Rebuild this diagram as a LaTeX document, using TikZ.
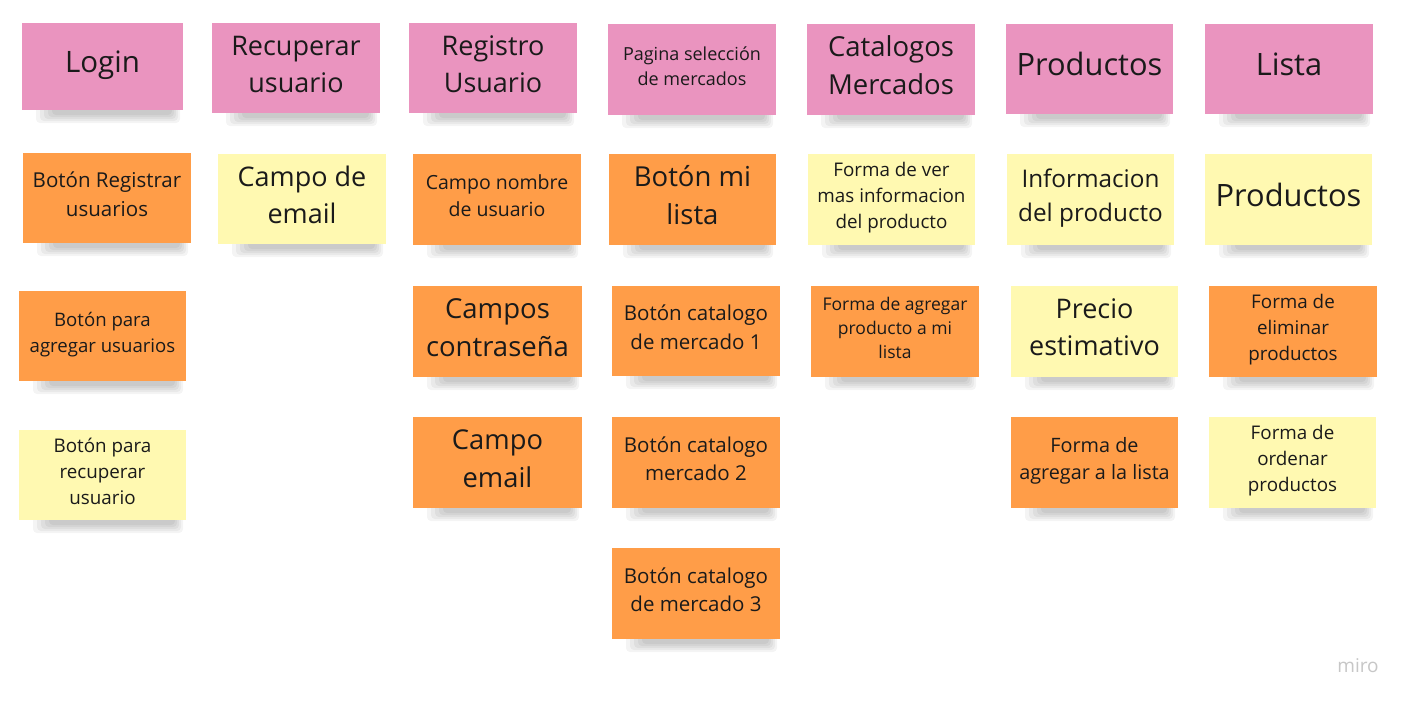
\documentclass[tikz,border=0pt]{standalone}
\usepackage{fontspec}
\setmainfont{Open Sans}
\definecolor{pinkS}{HTML}{EA94BF}
\definecolor{orangeS}{HTML}{FF9D48}
\definecolor{yellowS}{HTML}{FFF9B1}
\definecolor{inkS}{HTML}{1A1A1A}
\newcommand\notefont[1]{\fontsize{#1}{\fpeval{1.38*#1}}\selectfont}
\tikzset{
  stickybox/.style={rectangle, inner sep=0pt, draw=none},
  stickytext/.style={inner sep=0pt, align=center, text=inkS},
}
% name, x1, y1, x2, y2, colour, size, text
\newcommand\stickynote[8]{%
  \foreach \k in {0,2,4,6,8}{%
    \fill[black,opacity=0.045,rounded corners=4pt] ({#2+14+2*\k},{#5-6}) rectangle ({#4-3-\k},{#5+13-\k});
  }%
  \node[stickybox, fill=#6, minimum width={(#4-#2)*1pt}, minimum height={(#5-#3)*1pt}] (#1) at ({(#2+#4)/2},{(#3+#5)/2}) {};%
  \node[stickytext, font=\notefont{#7}] (#1-t) at ([yshift=1.8pt]#1.center) {\strut#8\strut};%
}
\begin{document}
\begin{tikzpicture}[x=1pt,y=-1pt]
\useasboundingbox[fill=white] (0,0) rectangle (1414,707);
% row 1
\stickynote{login}{22}{23}{183}{110}{pinkS}{29.5}{Login}
\stickynote{recup}{212}{23}{380}{113}{pinkS}{27}{Recuperar\\usuario}
\stickynote{regis}{409}{23}{577}{113}{pinkS}{27}{Registro\\Usuario}
\stickynote{pagina}{608}{24}{776}{115}{pinkS}{18}{Pagina selección\\de mercados}
\stickynote{catal}{807}{24}{975}{115}{pinkS}{27.5}{Catalogos\\Mercados}
\stickynote{produ}{1006}{24}{1173}{114}{pinkS}{30.8}{Productos}
\stickynote{lista}{1205}{24}{1373}{114}{pinkS}{30.8}{Lista}
% row 2
\stickynote{bregis}{23}{153}{191}{243}{orangeS}{20.5}{Botón Registrar\\usuarios}
\stickynote{cemail}{218}{154}{386}{244}{yellowS}{27}{Campo de\\email}
\stickynote{cnombre}{413}{154}{581}{245}{orangeS}{19.5}{Campo nombre\\de usuario}
\stickynote{bmilista}{609}{154}{776}{245}{orangeS}{27.5}{Botón mi\\lista}
\stickynote{fver}{808}{154}{975}{245}{yellowS}{18.8}{Forma de ver\\mas informacion\\del producto}
\stickynote{info}{1007}{154}{1174}{245}{yellowS}{24.3}{Informacion\\del producto}
\stickynote{lprod}{1205}{154}{1372}{245}{yellowS}{30.8}{Productos}
% row 3
\stickynote{bagreg}{19}{291}{186}{381}{orangeS}{18.6}{Botón para\\agregar usuarios}
\stickynote{ccontra}{413}{286}{582}{377}{orangeS}{27.5}{Campos\\contraseña}
\stickynote{bcat1}{612}{286}{780}{376}{orangeS}{20.5}{Botón catalogo\\de mercado 1}
\stickynote{fagprod}{811}{286}{979}{377}{orangeS}{17.5}{Forma de agregar\\producto a mi\\lista}
\stickynote{precio}{1011}{286}{1178}{377}{yellowS}{27}{Precio\\estimativo}
\stickynote{felim}{1209}{286}{1377}{377}{orangeS}{18.8}{Forma de\\eliminar\\productos}
% row 4
\stickynote{brecup}{19}{430}{186}{520}{yellowS}{18.8}{Botón para\\recuperar\\usuario}
\stickynote{cemail2}{413}{417}{582}{508}{orangeS}{27.3}{Campo\\email}
\stickynote{bcat2}{612}{417}{780}{508}{orangeS}{20.5}{Botón catalogo\\mercado 2}
\stickynote{faglista}{1011}{417}{1178}{508}{orangeS}{19.8}{Forma de\\agregar a la lista}
\stickynote{forden}{1209}{417}{1376}{508}{yellowS}{18.8}{Forma de\\ordenar\\productos}
% row 5
\stickynote{bcat3}{612}{548}{780}{639}{orangeS}{20.5}{Botón catalogo\\de mercado 3}
% watermark
\node[text=black!22, font=\fontsize{19}{22}\selectfont, inner sep=0pt] (miro) at (1358,666) {miro};
\end{tikzpicture}
\end{document}
